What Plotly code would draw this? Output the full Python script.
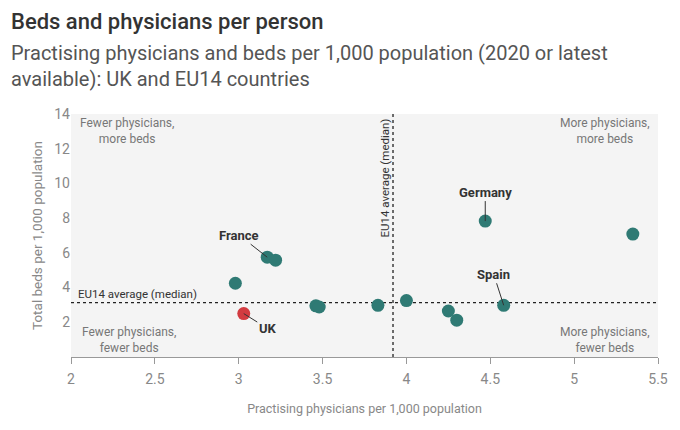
import plotly.graph_objects as go

# Data
phys = [3.03, 3.17, 3.22, 2.98, 3.46, 3.48, 3.83, 4.00, 4.25, 4.30, 4.58, 4.47, 5.35]
beds = [2.5, 5.75, 5.58, 4.25, 2.95, 2.88, 2.98, 3.25, 2.65, 2.12, 2.98, 7.83, 7.08]
names = ["UK", "France", "", "", "", "", "", "", "", "", "Spain", "Germany", ""]
is_uk = [True] + [False] * 12
median_phys = 3.92
median_beds = 3.13

x_ticks = [2, 2.5, 3, 3.5, 4, 4.5, 5, 5.5]
y_ticks = [2, 4, 6, 8, 10, 12, 14]

# label offsets (pixels) for named countries
label_offsets = {"UK": (24, 15), "France": (-28, -22), "Spain": (-10, -31), "Germany": (0, -29)}

FONT = "Roboto"
TEAL = "#2f7a74"
RED = "#d23b40"

fig = go.Figure()
fig.add_trace(go.Scatter(
    x=phys, y=beds, mode="markers",
    marker=dict(size=13, color=[RED if u else TEAL for u in is_uk], line=dict(width=0)),
    hoverinfo="text", text=names, showlegend=False,
))

# median lines
fig.add_shape(type="line", xref="x", yref="y", x0=median_phys, x1=median_phys, y0=0, y1=14,
              line=dict(color="#222", width=1.3, dash="dot"), layer="below")
fig.add_shape(type="line", xref="x", yref="y", x0=2, x1=5.5, y0=median_beds, y1=median_beds,
              line=dict(color="#222", width=1.3, dash="dot"), layer="below")

ann = []
for xv, yv, n in zip(phys, beds, names):
    if n:
        ax, ay = label_offsets[n]
        ann.append(dict(x=xv, y=yv, xref="x", yref="y", text="<b>" + n + "</b>", showarrow=True,
                        arrowhead=0, arrowwidth=1, arrowcolor="#333", ax=ax, ay=ay, standoff=0,
                        font=dict(family=FONT, size=13, color="#333")))

qfont = dict(family=FONT, size=12, color="#777")
ann += [
    dict(x=0.095, y=1.0, xref="paper", yref="paper", text="Fewer physicians,<br>more beds",
         showarrow=False, xanchor="center", yanchor="top", yshift=0, font=qfont, align="center"),
    dict(x=0.91, y=1.0, xref="paper", yref="paper", text="More physicians,<br>more beds",
         showarrow=False, xanchor="center", yanchor="top", yshift=0, font=qfont, align="center"),
    dict(x=0.098, y=0.0, xref="paper", yref="paper", text="Fewer physicians,<br>fewer beds",
         showarrow=False, xanchor="center", yanchor="bottom", font=qfont, align="center"),
    dict(x=0.91, y=0.0, xref="paper", yref="paper", text="More physicians,<br>fewer beds",
         showarrow=False, xanchor="center", yanchor="bottom", font=qfont, align="center"),
    dict(x=2, y=median_beds, xref="x", yref="y", text="EU14 average (median)", showarrow=False,
         xanchor="left", yanchor="bottom", xshift=5, yshift=0,
         font=dict(family=FONT, size=11.5, color="#333")),
    dict(x=median_phys, y=14, xref="x", yref="y", text="EU14 average (median)", showarrow=False,
         textangle=-90, xanchor="right", yanchor="top", xshift=0, yshift=-3,
         font=dict(family=FONT, size=11.5, color="#333")),
    dict(x=-0.106, y=1.44, xref="paper", yref="paper", text="Beds and physicians per person",
         showarrow=False, xanchor="left", yanchor="top",
         font=dict(family=FONT, size=22, color="#333", weight=500)),
    dict(x=-0.106, y=1.31, xref="paper", yref="paper",
         text="Practising physicians and beds per 1,000 population (2020 or latest<br>available): UK and EU14 countries",
         showarrow=False, xanchor="left", yanchor="top", align="left",
         font=dict(family=FONT, size=20, color="#555")),
]

fig.update_layout(
    width=680, height=430,
    margin=dict(l=71, r=22, t=114, b=73),
    paper_bgcolor="white", plot_bgcolor="#f4f4f4",
    font=dict(family=FONT, color="#888"),
    annotations=ann,
    xaxis=dict(range=[2, 5.5], tickvals=x_ticks, ticktext=[f"{v:g}" for v in x_ticks],
               showgrid=False, zeroline=False, showline=True, linecolor="#999", linewidth=1,
               ticks="outside", ticklen=6, tickcolor="#999", tickfont=dict(size=14, color="#888"),
               ticklabelstandoff=3,
               title=dict(text="Practising physicians per 1,000 population",
                          font=dict(size=12.5, color="#888"), standoff=18)),
    yaxis=dict(range=[0, 14], tickvals=y_ticks, showgrid=False, zeroline=False, showline=False,
               ticks="", tickfont=dict(size=14, color="#888"),
               title=dict(text="Total beds per 1,000 population",
                          font=dict(size=13.5, color="#888"), standoff=8)),
)
fig.write_html("out.html")
